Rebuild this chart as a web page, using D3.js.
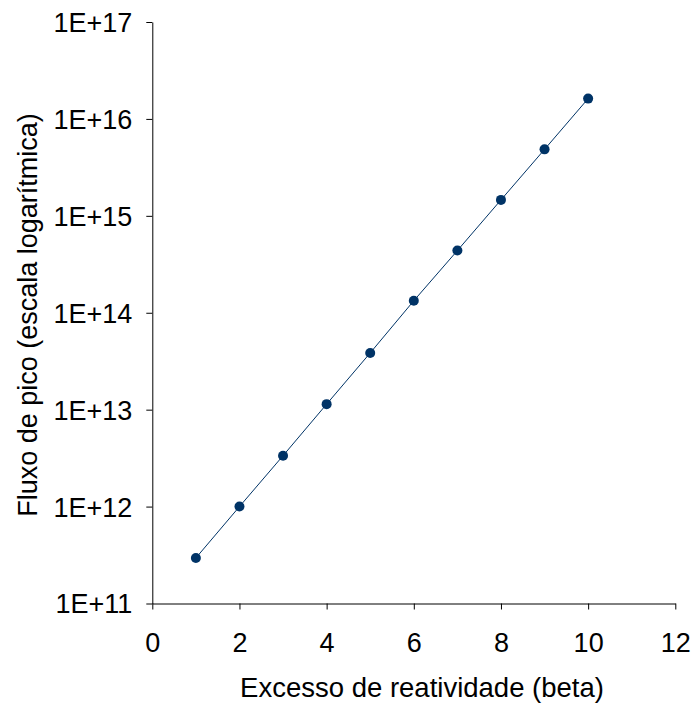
<!DOCTYPE html>
<html>
<head>
<meta charset="utf-8">
<script src="https://cdn.jsdelivr.net/npm/d3@7"></script>
<style>
  body { margin: 0; background: #fff; }
  text { font-family: "Liberation Sans", Arial, sans-serif; fill: #000; }
</style>
</head>
<body>
<div id="chart"></div>
<script>
// data
const beta = [1, 2, 3, 4, 5, 6, 7, 8, 9, 10];
const peakFlux = [2.95e11, 1.0e12, 3.35e12, 1.14e13, 3.85e13, 1.33e14, 4.38e14, 1.46e15, 4.85e15, 1.62e16];
const xTicks = [0, 2, 4, 6, 8, 10, 12];
const yTicks = [1e11, 1e12, 1e13, 1e14, 1e15, 1e16, 1e17];
const yTickLabels = ["1E+11", "1E+12", "1E+13", "1E+14", "1E+15", "1E+16", "1E+17"];

const W = 694, H = 706;
const margin = {top: 22, right: 19, bottom: 102.5, left: 152.3};
const width = W - margin.left - margin.right;
const height = H - margin.top - margin.bottom;
const color = "#003366";
const fontSize = "27px";

const svg = d3.select("#chart").append("svg")
    .attr("width", W)
    .attr("height", H);

const g = svg.append("g")
    .attr("transform", "translate(" + margin.left + "," + margin.top + ")");

const xScale = d3.scaleLinear().domain([0, 12]).range([0, 523]);
const yScale = d3.scaleLog().domain([1e11, 1e17]).range([height, 0]);

// axes
const xAxis = d3.axisBottom(xScale).tickValues(xTicks).tickSize(6).tickSizeOuter(0).tickPadding(2);
const yAxis = d3.axisLeft(yScale).tickValues(yTicks).tickSize(6).tickSizeOuter(0).tickPadding(14)
    .tickFormat((d, i) => yTickLabels[i]);

const xG = g.append("g").attr("transform", "translate(0," + height + ")").call(xAxis);
const yG = g.append("g").call(yAxis);

[xG, yG].forEach(a => {
    a.select(".domain").attr("stroke", "#000").attr("stroke-width", 1);
    a.selectAll(".tick line").attr("stroke", "#000");
    a.selectAll(".tick text").style("font-size", fontSize).attr("fill", "#000")
        .style("font-family", "'Liberation Sans', Arial, sans-serif");
});
yG.selectAll(".tick text").attr("dy", "0.35em");
// x labels: baseline about 48px below the axis
xG.selectAll(".tick text").attr("y", 40).attr("dy", "0.3em");

// series
const pts = beta.map((b, i) => ({x: b, y: peakFlux[i]}));

g.append("path")
    .datum(pts)
    .attr("fill", "none")
    .attr("stroke", color)
    .attr("stroke-width", 1)
    .attr("d", d3.line().x(d => xScale(d.x)).y(d => yScale(d.y)));

g.selectAll(".pt")
    .data(pts)
    .join("circle")
    .attr("class", "pt")
    .attr("cx", d => xScale(d.x))
    .attr("cy", d => yScale(d.y))
    .attr("r", 5)
    .attr("fill", color);

// axis titles
svg.append("text")
    .attr("text-anchor", "middle")
    .attr("x", 422)
    .attr("y", 697)
    .style("font-size", "27.5px")
    .text("Excesso de reatividade (beta)");

svg.append("text")
    .attr("text-anchor", "middle")
    .attr("transform", "rotate(-90)")
    .attr("x", -315)
    .attr("y", 37)
    .style("font-size", fontSize)
    .text("Fluxo de pico (escala logarítmica)");
</script>
</body>
</html>
